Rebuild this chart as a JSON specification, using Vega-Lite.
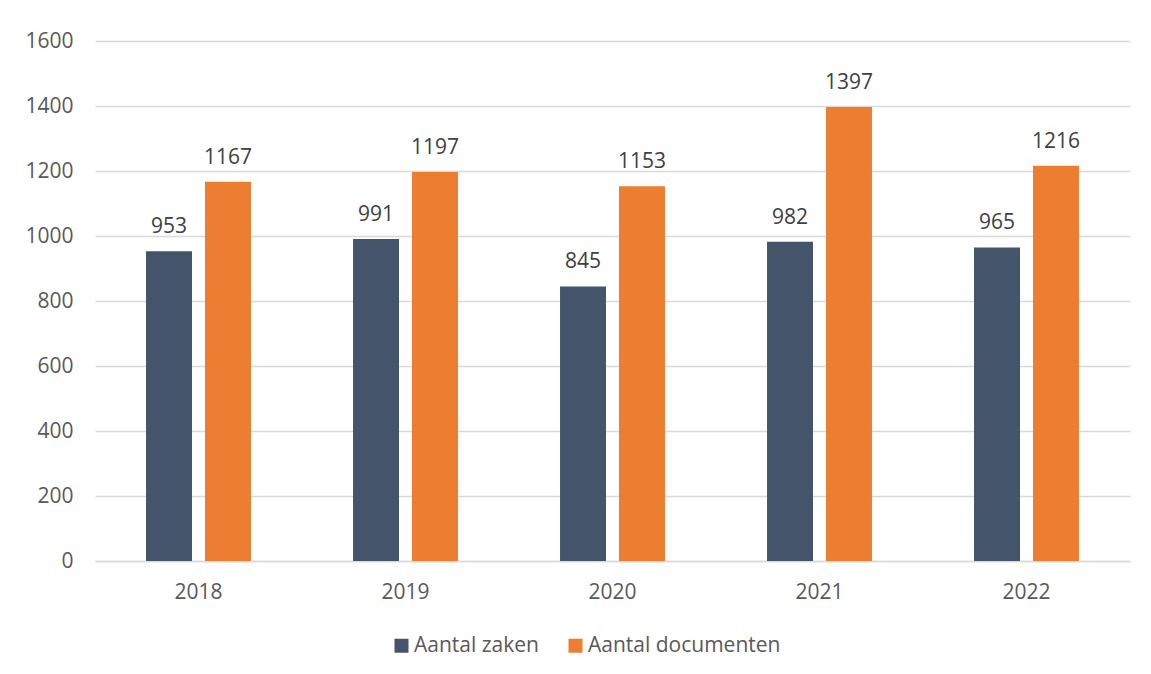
{
  "$schema": "https://vega.github.io/schema/vega-lite/v6.json",
  "width": 1035,
  "height": 520,
  "autosize": {"type": "none"},
  "padding": {"left": 95, "top": 41, "right": 21, "bottom": 113},
  "background": "white",
  "config": {
    "view": {"stroke": null},
    "font": "Open Sans",
    "axis": {"labelFont": "Open Sans", "labelColor": "#595959", "labelFontSize": 21},
    "legend": {"labelFont": "Open Sans", "labelColor": "#595959", "labelFontSize": 21, "labelLimit": 400}
  },
  "data": {
    "values": [
      {"year": "2018", "series": "Aantal zaken", "value": 953},
      {"year": "2018", "series": "Aantal documenten", "value": 1167},
      {"year": "2019", "series": "Aantal zaken", "value": 991},
      {"year": "2019", "series": "Aantal documenten", "value": 1197},
      {"year": "2020", "series": "Aantal zaken", "value": 845},
      {"year": "2020", "series": "Aantal documenten", "value": 1153},
      {"year": "2021", "series": "Aantal zaken", "value": 982},
      {"year": "2021", "series": "Aantal documenten", "value": 1397},
      {"year": "2022", "series": "Aantal zaken", "value": 965},
      {"year": "2022", "series": "Aantal documenten", "value": 1216}
    ]
  },
  "encoding": {
    "x": {
      "field": "year", "type": "nominal", "title": null,
      "scale": {"paddingInner": 0.493, "paddingOuter": 0.2465},
      "axis": {"labelAngle": 0, "ticks": false, "domainColor": "#d9d9d9", "domainWidth": 1.5, "labelPadding": 20}
    },
    "xOffset": {
      "field": "series", "type": "nominal",
      "sort": ["Aantal zaken", "Aantal documenten"],
      "scale": {"paddingInner": 0.22, "paddingOuter": 0}
    },
    "y": {
      "field": "value", "type": "quantitative", "title": null,
      "scale": {"domain": [0, 1600]},
      "axis": {"values": [0, 200, 400, 600, 800, 1000, 1200, 1400, 1600], "format": "d", "ticks": false, "domain": false, "gridColor": "#d9d9d9", "gridWidth": 1.5, "labelPadding": 22}
    }
  },
  "layer": [
    {
      "mark": {"type": "bar"},
      "encoding": {
        "color": {
          "field": "series", "type": "nominal",
          "sort": ["Aantal zaken", "Aantal documenten"],
          "scale": {"domain": ["Aantal zaken", "Aantal documenten"], "range": ["#44546A", "#ED7D31"]},
          "legend": {"title": null, "orient": "none", "direction": "horizontal", "legendX": 296, "legendY": 594, "symbolType": "square", "symbolSize": 196, "symbolStrokeWidth": 0, "columnPadding": 26, "labelOffset": 2}
        }
      }
    },
    {
      "mark": {"type": "text", "baseline": "alphabetic", "dy": -18, "fontSize": 21, "color": "#404040"},
      "encoding": {"text": {"field": "value", "type": "quantitative", "format": "d"}}
    }
  ]
}
